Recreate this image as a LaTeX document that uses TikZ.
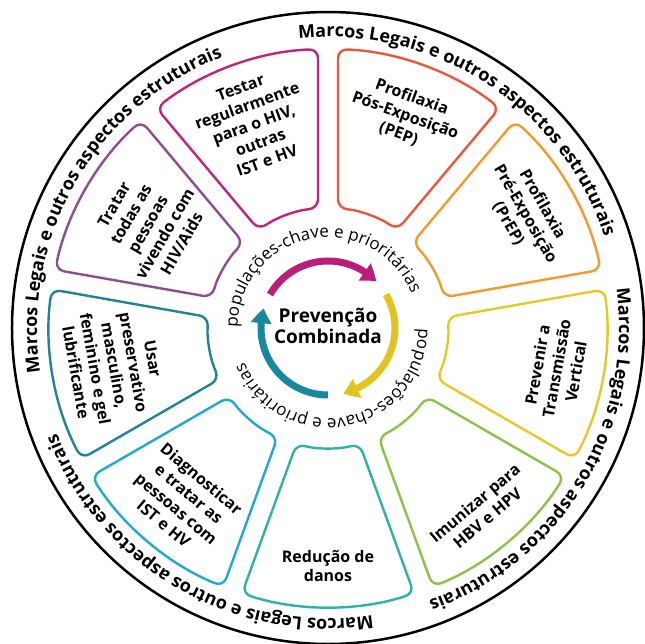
\documentclass[tikz,border=0pt]{standalone}
\usepackage{fontspec}
\setmainfont{Open Sans}
\usetikzlibrary{decorations.text,arrows.meta,bending}

\definecolor{cTestar}{RGB}{192,36,126}
\definecolor{cPEP}{RGB}{233,88,62}
\definecolor{cPrEP}{RGB}{243,154,44}
\definecolor{cPrev}{RGB}{229,200,42}
\definecolor{cImun}{RGB}{140,194,75}
\definecolor{cRed}{RGB}{46,180,166}
\definecolor{cDiag}{RGB}{32,170,206}
\definecolor{cUsar}{RGB}{32,132,150}
\definecolor{cTratar}{RGB}{140,78,145}
\definecolor{aMag}{RGB}{186,30,122}
\definecolor{aYel}{RGB}{226,196,32}
\definecolor{aTeal}{RGB}{26,136,156}

\begin{document}
\begin{tikzpicture}[x=1pt,y=1pt,
  boxline/.style={line width=2.4pt,rounded corners=9pt},
  boxtext/.style={align=center,inner sep=0pt,font=\bfseries\fontsize{16}{19.5}\selectfont},
  cycarrow/.style={line width=7pt,-{Triangle[width=20pt,length=15pt,bend]}},
  ringtext/.style={decorate,decoration={text along path,text align=center,
    text={|\bfseries\fontsize{18}{20}\selectfont|#1}}},
  keytext/.style={decorate,decoration={text along path,text align=center,
    text={|\fontsize{17}{19}\selectfont|#1}}}]

  \useasboundingbox (-328,-315) rectangle (317,328);

  \draw[line width=2.5pt] (0,0) circle[radius=316];

  \foreach \a/\c in {90/cTestar,50/cPEP,10/cPrEP,-30/cPrev,-70/cImun,-110/cRed,-150/cDiag,-190/cUsar,-230/cTratar}
    \draw[boxline,\c] (\a+2.87:200) -- (\a+2.05:279)
      arc[start angle=\a+2.05,end angle=\a+37.95,radius=279]
      -- (\a+35.22:120) arc[start angle=\a+35.22,end angle=\a+4.78,radius=120] -- cycle;

  \node (tTestar) at (110:217) [boxtext,rotate=20] {Testar\\regularmente\\para o HIV,\\outras\\IST e HV};
  \node (tPEP) at (70:226) [boxtext,rotate=-20] {Profilaxia\\Pós-Exposição\\(PEP)};
  \node (tPrEP) at (30:228) [boxtext,rotate=-60] {Profilaxia\\Pré-Exposição\\(PrEP)};
  \node (tPrev) at (-10:232) [boxtext,rotate=80] {Prevenir a\\Transmissão\\Vertical};
  \node (tImun) at (-50:238) [boxtext,rotate=40] {Imunizar para\\HBV e HPV};
  \node (tRed) at (-90:238) [boxtext] {Redução de\\danos};
  \node (tDiag) at (-130:226) [boxtext,rotate=-40] {Diagnosticar\\e tratar as\\pessoas com\\IST e HV};
  \node (tUsar) at (-170:217) [boxtext,rotate=-80] {Usar\\preservativo\\masculino,\\feminino e gel\\lubrificante};
  \node (tTratar) at (150:208) [boxtext,rotate=60] {Tratar\\todas as\\pessoas\\vivendo com\\HIV/Aids};

  \path[ringtext=Marcos Legais e outros aspectos estruturais] (117:291) arc[start angle=117,end angle=-3,radius=291];
  \path[ringtext=Marcos Legais e outros aspectos estruturais] (210:291) arc[start angle=210,end angle=90,radius=291];
  \path[ringtext=Marcos Legais e outros aspectos estruturais] (300:291) arc[start angle=300,end angle=180,radius=291];
  \path[ringtext=Marcos Legais e outros aspectos estruturais] (29:291) arc[start angle=29,end angle=-91,radius=291];

  \path[keytext=populações-chave e prioritárias] (201:90.5) arc[start angle=201,end angle=1,radius=90.5];
  \path[keytext=populações-chave e prioritárias] (21:90.5) arc[start angle=21,end angle=-179,radius=90.5];

  \draw[cycarrow,aMag] (150:67) arc[start angle=150,end angle=44,radius=67];
  \draw[cycarrow,aYel] (30:67) arc[start angle=30,end angle=-77,radius=67];
  \draw[cycarrow,aTeal] (-90:67) arc[start angle=-90,end angle=-197,radius=67];

  \node (title) at (0,2) [align=center,font=\bfseries\fontsize{19}{21}\selectfont] {Prevenção\\Combinada};

\end{tikzpicture}
\end{document}
